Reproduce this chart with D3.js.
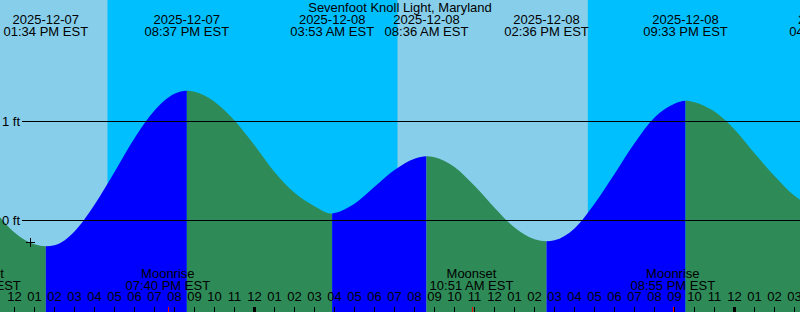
<!DOCTYPE html>
<html>
<head>
<meta charset="utf-8">
<script src="https://cdn.jsdelivr.net/npm/d3@7"></script>
<style>
  html, body { margin: 0; padding: 0; background: #fff; }
  svg { display: block; }
  text { font-family: 'Liberation Sans', Arial, sans-serif; font-size: 13px; fill: #000; }
</style>
</head>
<body>
<svg id="chart"></svg>
<script>
const title = 'Sevenfoot Knoll Light, Maryland';

// hourly tide levels (ft), starting 2025-12-07 11:00 AM
const tideStart = '2025-12-07 11:00 AM';
const tideLevels = [
  0.10, -0.12, -0.24, -0.25, -0.11, 0.16, 0.49, 0.83, 1.11, 1.28,
  1.30, 1.20, 1.01, 0.76, 0.49, 0.28, 0.145, 0.075, 0.17, 0.34,
  0.51, 0.625, 0.64, 0.54, 0.35, 0.13, -0.07, -0.19, -0.20, -0.08,
  0.17, 0.47, 0.78, 1.04, 1.18, 1.195, 1.10, 0.92, 0.68, 0.45,
  0.25, 0.13
];

// high / low tide events
const eventTimes = [
  '2025-12-07 01:34 PM', '2025-12-07 08:37 PM', '2025-12-08 03:53 AM',
  '2025-12-08 08:36 AM', '2025-12-08 02:36 PM', '2025-12-08 09:33 PM',
  '2025-12-09 04:50 AM'
];
const eventLevels = [-0.26, 1.31, 0.07, 0.65, -0.21, 1.21, 0.10];

const sunriseTimes = ['2025-12-07 07:08 AM', '2025-12-08 07:09 AM'];
const sunsetTimes = ['2025-12-07 04:39 PM', '2025-12-08 04:40 PM'];

const moonTimes = ['2025-12-07 10:13 AM', '2025-12-07 07:40 PM', '2025-12-08 10:51 AM', '2025-12-08 08:55 PM'];
const moonKinds = ['Moonset', 'Moonrise', 'Moonset', 'Moonrise'];

const nowTime = '2025-12-07 12:48 PM';
const nowLevel = -0.22;

const levelTicks = [0, 1];

const width = 800;
const height = 312;

const parse = d3.timeParse('%Y-%m-%d %I:%M %p');
const fmtDate = d3.timeFormat('%Y-%m-%d');
const fmtTime = d3.timeFormat('%I:%M %p EST');

// 20 px per hour, noon of the 7th at x = 14.5
const noon = parse('2025-12-07 12:00 PM');
const x = d3.scaleTime()
  .domain([noon, d3.timeHour.offset(noon, 24)])
  .range([14.5, 14.5 + 24 * 20]);
x.domain([x.invert(0), x.invert(width)]).range([0, width]);
const y = d3.scaleLinear().domain([0, 1]).range([220.5, 121.5]);

const t0 = parse(tideStart);
let points = tideLevels.map((v, i) => ({ t: d3.timeHour.offset(t0, i), v }));
eventTimes.forEach((s, i) => points.push({ t: parse(s), v: eventLevels[i] }));
points.sort((a, b) => a.t - b.t);

const svg = d3.select('#chart').attr('width', width).attr('height', height);

// sky
svg.append('rect')
  .attr('width', width)
  .attr('height', height)
  .attr('fill', '#00bfff');

const dayStarts = [parse(sunriseTimes[0]), parse(sunriseTimes[1])];
const dayEnds = [parse(sunsetTimes[0]), parse(sunsetTimes[1])];
svg.selectAll('.day')
  .data(dayStarts)
  .enter()
  .append('rect')
  .attr('class', 'day')
  .attr('x', (d) => x(d))
  .attr('y', 0)
  .attr('width', (d, i) => x(dayEnds[i]) - x(d))
  .attr('height', height)
  .attr('fill', '#87ceeb');

// water, blue while rising and green while falling
const area = d3.area()
  .x((d) => x(d.t))
  .y0(height)
  .y1((d) => y(d.v))
  .curve(d3.curveMonotoneX);

svg.append('clipPath')
  .attr('id', 'water')
  .append('path')
  .attr('d', area(points));

const breaks = [points[0]].concat(eventTimes.map((s, i) => ({ t: parse(s), v: eventLevels[i] })));
const segments = d3.pairs(breaks);

svg.append('g')
  .attr('clip-path', 'url(#water)')
  .selectAll('rect')
  .data(segments)
  .enter()
  .append('rect')
  .attr('x', (d) => x(d[0].t))
  .attr('y', 0)
  .attr('width', (d) => x(d[1].t) - x(d[0].t))
  .attr('height', height)
  .attr('fill', (d) => (d[1].v > d[0].v ? '#0000ff' : '#2e8b57'));

// level lines
svg.selectAll('.level')
  .data(levelTicks)
  .enter()
  .append('line')
  .attr('class', 'level')
  .attr('x1', 22)
  .attr('x2', width)
  .attr('y1', (d) => y(d))
  .attr('y2', (d) => y(d))
  .attr('stroke', '#000')
  .attr('stroke-width', 1);

svg.selectAll('.level-label')
  .data(levelTicks)
  .enter()
  .append('text')
  .attr('x', 2)
  .attr('y', (d) => y(d) + 4.5)
  .text((d) => d + ' ft');

// now marker
const nx = x(parse(nowTime));
const ny = Math.round(y(nowLevel)) + 0.5;
svg.append('path')
  .attr('d', `M${nx - 4.5},${ny}H${nx + 4.5}M${nx},${ny - 4.5}V${ny + 4.5}`)
  .attr('stroke', '#000')
  .attr('stroke-width', 1);

// title and tide events
svg.append('text')
  .attr('x', width / 2)
  .attr('y', 12)
  .attr('text-anchor', 'middle')
  .text(title);

const ev = svg.selectAll('.event')
  .data(eventTimes.map(parse))
  .enter()
  .append('g')
  .attr('class', 'event');
ev.append('text')
  .attr('x', (d) => x(d))
  .attr('y', 24)
  .attr('text-anchor', 'middle')
  .text((d) => fmtDate(d));
ev.append('text')
  .attr('x', (d) => x(d))
  .attr('y', 36)
  .attr('text-anchor', 'middle')
  .text((d) => fmtTime(d));

// moon events
const moon = svg.selectAll('.moon')
  .data(moonTimes.map(parse))
  .enter()
  .append('g')
  .attr('class', 'moon');
moon.append('text')
  .attr('x', (d) => x(d))
  .attr('y', 278)
  .attr('text-anchor', 'middle')
  .text((d, i) => moonKinds[i]);
moon.append('text')
  .attr('x', (d) => x(d))
  .attr('y', 290)
  .attr('text-anchor', 'middle')
  .text((d) => fmtTime(d));

// hour axis
const hourAxis = d3.axisTop(x)
  .ticks(d3.timeHour.every(1))
  .tickFormat(d3.timeFormat('%I'))
  .tickSize(5)
  .tickPadding(6)
  .offset(0);

const gAxis = svg.append('g')
  .attr('transform', `translate(0,${height})`)
  .call(hourAxis);
gAxis.select('.domain').remove();
gAxis.attr('font-family', null).attr('font-size', null);
gAxis.selectAll('text').attr('fill', '#000');
gAxis.selectAll('.tick line')
  .attr('stroke', '#000')
  .attr('stroke-width', (d) => (d.getHours() === 0 ? 3 : 1));

svg.selectAll('.moon-tick')
  .data(moonTimes.map(parse))
  .enter()
  .append('line')
  .attr('x1', (d) => Math.round(x(d)) + 0.5)
  .attr('x2', (d) => Math.round(x(d)) + 0.5)
  .attr('y1', height - 5)
  .attr('y2', height)
  .attr('stroke', '#ff0000');
</script>
</body>
</html>
